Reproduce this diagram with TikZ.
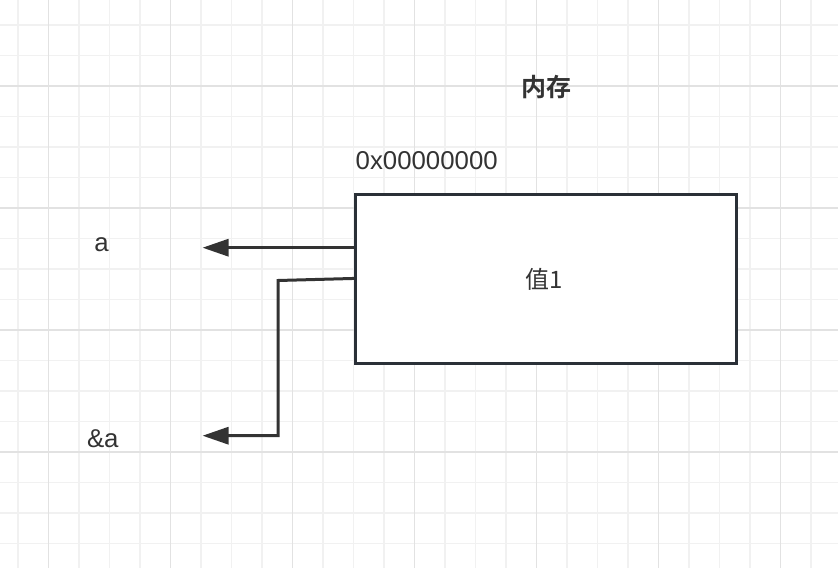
\documentclass[tikz,border=0pt]{standalone}
\usepackage{fontspec}
\setmainfont{Liberation Sans}
\newfontfamily\cjk[BoldFont={Noto Sans CJK SC Bold}]{Noto Sans CJK SC}
\usetikzlibrary{arrows.meta}
\definecolor{minorgrid}{RGB}{241,241,241}
\definecolor{majorgrid}{RGB}{226,226,226}
\definecolor{ink}{RGB}{51,51,51}
\definecolor{boxline}{RGB}{42,48,55}
\tikzset{
  lbl/.style={inner sep=0pt, text=ink, font=\fontsize{25.8}{30}\selectfont},
  cjklbl/.style={inner sep=0pt, text=ink, font=\fontsize{24}{29}\selectfont\cjk},
  membox/.style={draw=boxline, line width=3pt, fill=white, inner sep=0pt},
  ptr/.style={draw=ink, line width=3pt, -{Triangle[length=26pt,width=17pt]}}
}
\begin{document}
\begin{tikzpicture}[x=1pt,y=-1pt]
\fill[white] (0,0) rectangle (838,568);
\useasboundingbox (0,0) rectangle (838,568);
% grid
\foreach \k in {-1,...,26} {
  \draw[minorgrid, line width=1.4pt] ({48.4+30.5*\k},0) -- ({48.4+30.5*\k},568);
}
\foreach \k in {-2,...,15} {
  \draw[minorgrid, line width=1.4pt] (0,{86.1+30.5*\k}) -- (838,{86.1+30.5*\k});
}
\foreach \k in {0,...,6} {
  \draw[majorgrid, line width=1.4pt] ({48.4+122*\k},0) -- ({48.4+122*\k},568);
}
\foreach \k in {0,...,3} {
  \draw[majorgrid, line width=1.4pt] (0,{86.1+122*\k}) -- (838,{86.1+122*\k});
}
% nodes
\node[cjklbl, font=\fontsize{25}{30}\selectfont\cjk\bfseries] (title) at (546.7,87.5) {内存};
\node[lbl, anchor=base west] (addr) at (355.5,169.3) {0x00000000};
\node[membox, minimum width=381.4pt, minimum height=169.1pt] (box) at (546,278.75) {};
\node[cjklbl] (val) at (544.5,279) {值1};
\node[lbl, anchor=base] (a) at (101.5,251) {a};
\node[lbl, anchor=base] (refa) at (102.8,447) {\&a};
% connectors
\coordinate (atip) at (202.5,247.7);
\coordinate (rtip) at (202.5,435.7);
\coordinate (bend1) at (278,280.5);
\coordinate (bend2) at (278,435.7);
\draw[ptr] (box.west |- atip) -- (atip);
\draw[ptr, line join=miter] ([yshift=0.3pt]box.west) -- (bend1) -- (bend2) -- (rtip);
\end{tikzpicture}
\end{document}
